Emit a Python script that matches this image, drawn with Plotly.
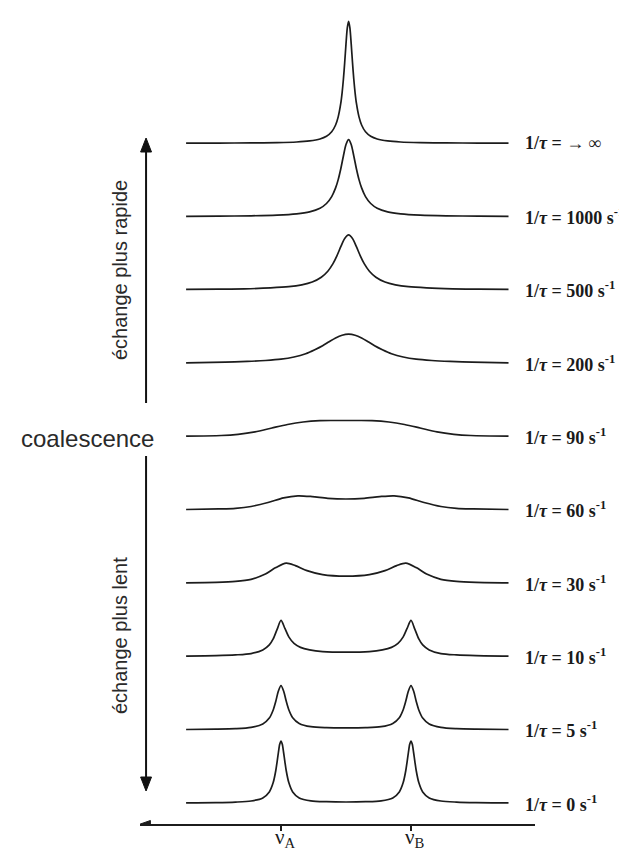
import plotly.graph_objects as go

# ---- data (frequency offset in arbitrary units, nu_A = -50, nu_B = +50; intensity) ----
rate_labels = ["→ ∞", "1000", "500", "200", "90", "60", "30", "10", "5", "0"]  # top -> bottom

x_inf = [-123, -98, -73, -53, -38, -28, -20, -15, -11, -8, -6, -4, -3, -2, -1, 0, 1, 2, 3, 4, 5, 6, 7, 8, 10, 12, 15, 19, 24, 32, 42, 57, 77, 102, 125]
y_inf = [0.1, 0.2, 0.4, 0.7, 1.3, 2.4, 4.3, 7.0, 11.5, 18.3, 26.4, 40.1, 50.5, 64.0, 80.8, 99.4, 115.4, 122, 115.4, 99.4, 80.8, 64.0, 50.5, 40.1, 26.4, 18.3, 11.5, 7.0, 4.3, 2.4, 1.3, 0.7, 0.4, 0.2, 0.1]

x_1000 = [-123, -98, -73, -53, -38, -28, -20, -15, -11, -8, -6, -4, -2, 0, 2, 4, 6, 8, 10, 12, 15, 19, 24, 32, 42, 57, 77, 102, 125]
y_1000 = [0.3, 0.5, 0.8, 1.5, 2.8, 4.8, 8.4, 13.1, 20.0, 28.7, 37.0, 47.9, 60.6, 72.1, 77, 72.1, 60.6, 47.9, 37.0, 28.7, 20.0, 13.1, 8.4, 4.8, 2.8, 1.5, 0.8, 0.5, 0.3]

x_500 = [-123, -98, -78, -58, -44, -34, -26, -19, -14, -10, -7, -4, -1, 2, 5, 8, 11, 14, 18, 23, 30, 38, 48, 62, 82, 102, 125]
y_500 = [0.5, 0.7, 1.1, 2.0, 3.2, 5.1, 7.9, 12.7, 18.7, 26.3, 34.1, 43.2, 51.5, 55, 51.5, 43.2, 34.1, 26.3, 18.7, 12.7, 7.9, 5.1, 3.2, 2.0, 1.1, 0.7, 0.5]

x_200 = [-123, -93, -76, -62, -50, -40, -31, -24, -18, -13, -8, -3, 2, 7, 12, 17, 22, 28, 35, 44, 54, 66, 80, 97, 125]
y_200 = [0.4, 1.1, 1.8, 2.7, 4.0, 6.2, 9.5, 13.5, 17.5, 21.5, 25.3, 28, 29, 28, 25.3, 21.5, 17.5, 13.5, 9.5, 6.2, 4.0, 2.7, 1.8, 1.1, 0.4]

x_90 = [-123, -96, -83, -70, -57, -45, -33, -20, -10, 0, 10, 20, 33, 45, 57, 70, 83, 96, 125]
y_90 = [0.3, 1.0, 2.2, 4.6, 8.5, 12, 14.5, 15.8, 16, 16, 16, 15.8, 14.5, 12, 8.5, 4.6, 2.2, 1.0, 0.3]

x_60 = [-123, -98, -85, -73, -60, -48, -37, -26, -14, 0, 14, 26, 37, 48, 60, 73, 85, 98, 125]
y_60 = [0.3, 0.9, 1.5, 3.3, 7.3, 12, 14, 13.2, 11.5, 10.8, 11.5, 13.2, 14, 12, 7.3, 3.3, 1.5, 0.9, 0.3]

x_30 = [-123, -100, -85, -73, -62, -54, -46, -39, -30, -18, 0, 18, 30, 39, 46, 54, 62, 73, 85, 100, 125]
y_30 = [0.3, 0.8, 1.7, 3.8, 9, 15.5, 20, 17.5, 12.5, 8.5, 7, 8.5, 12.5, 17.5, 20, 15.5, 9, 3.8, 1.7, 0.8, 0.3]

x_10 = [-123, -100, -85, -73, -64, -59, -56, -53, -50, -47, -44, -40, -35, -28, -18, 0, 18, 28, 35, 40, 44, 47, 50, 53, 56, 59, 64, 73, 85, 100, 125]
y_10 = [0.3, 0.8, 1.5, 2.8, 6.5, 11.5, 17.5, 27, 36, 28, 19.5, 13, 9, 6.5, 4.8, 4.2, 4.8, 6.5, 9, 13, 19.5, 28, 36, 27, 17.5, 11.5, 6.5, 2.8, 1.5, 0.8, 0.3]

x_5 = [-123, -100, -85, -73, -64, -59, -56, -54, -52, -50, -48, -46, -44, -41, -36, -27, -15, 0, 15, 27, 36, 41, 44, 46, 48, 50, 52, 54, 56, 59, 64, 73, 85, 100, 125]
y_5 = [0.2, 0.5, 1.0, 2.3, 5.7, 11.6, 19.7, 28.4, 38.7, 44, 38.7, 28.6, 20, 12, 6.3, 3, 2, 1.8, 2, 3, 6.3, 12, 20, 28.6, 38.7, 44, 38.7, 28.4, 19.7, 11.6, 5.7, 2.3, 1.0, 0.5, 0.2]

x_0 = [-123, -100, -85, -73, -64, -59, -56, -54, -53, -52, -51, -50, -49, -48, -47, -46, -44, -41, -36, -27, -15, 0, 15, 27, 36, 41, 44, 46, 47, 48, 49, 50, 51, 52, 53, 54, 56, 59, 64, 73, 85, 100, 125]
y_0 = [0.2, 0.4, 0.9, 2.0, 5.1, 11.1, 20.4, 32.5, 41.1, 50.5, 58.7, 62, 58.7, 50.5, 41.1, 32.5, 20.4, 11.1, 5.1, 2.2, 1.3, 1.0, 1.3, 2.2, 5.1, 11.1, 20.4, 32.5, 41.1, 50.5, 58.7, 62, 58.7, 50.5, 41.1, 32.5, 20.4, 11.1, 5.1, 2.0, 0.9, 0.4, 0.2]

nu_ticks = [-50, 50]
nu_labels = ["ν<sub>A</sub>", "ν<sub>B</sub>"]

spectra_x = [x_inf, x_1000, x_500, x_200, x_90, x_60, x_30, x_10, x_5, x_0]
spectra_y = [y_inf, y_1000, y_500, y_200, y_90, y_60, y_30, y_10, y_5, y_0]

# ---- layout constants ----
ROW_GAP = 73.3
LINE = "#1c1c1c"
X_MIN, X_MAX = -158.46, 145.38
Y_MIN, Y_MAX = -21, 795
ARROW_X = -153.8
n = len(spectra_x)

fig = go.Figure()
for i, (xs, ys) in enumerate(zip(spectra_x, spectra_y)):
    off = (n - 1 - i) * ROW_GAP
    fig.add_trace(go.Scatter(
        x=xs, y=[v + off for v in ys], mode="lines",
        line=dict(color=LINE, width=1.7, shape="spline", smoothing=0.8),
        hoverinfo="skip", showlegend=False))

annotations = []
for i, r in enumerate(rate_labels):
    off = (n - 1 - i) * ROW_GAP
    txt = "1/<i>τ</i> = " + r + ("" if "∞" in r else " s<sup>-1</sup>")
    annotations.append(dict(x=136, y=off, xref="x", yref="y", text="<b>" + txt + "</b>",
                            showarrow=False, xanchor="left", yanchor="middle",
                            font=dict(family="Liberation Serif", size=18, color="#1a1a1a")))

# frequency labels under the ticks
for xv, lab in zip(nu_ticks, nu_labels):
    annotations.append(dict(x=xv, y=(816 - 844) / 816, xref="x", yref="paper", text=lab,
                            showarrow=False, xanchor="left", yanchor="bottom", xshift=-7,
                            borderpad=0,
                            font=dict(family="Liberation Serif", size=21, color="#1a1a1a")))

annotations.append(dict(x=-0.133, y=(816 - 430) / 816, xref="paper", yref="paper",
                        text="coalescence", showarrow=False, xanchor="center", yanchor="middle",
                        font=dict(family="Liberation Sans", size=24, color="#2a2a2a")))
annotations.append(dict(x=(112 - 132) / 395, y=(816 - 262) / 816, xref="paper", yref="paper",
                        text="échange plus rapide", showarrow=False, textangle=-90,
                        xanchor="center", yanchor="middle",
                        font=dict(family="Liberation Sans", size=20, color="#2a2a2a")))
annotations.append(dict(x=(112 - 132) / 395, y=(816 - 628) / 816, xref="paper", yref="paper",
                        text="échange plus lent", showarrow=False, textangle=-90,
                        xanchor="center", yanchor="middle",
                        font=dict(family="Liberation Sans", size=20, color="#2a2a2a")))

# arrows drawn as shapes (lines + filled heads)
hx, hy = 4.2, 14  # head half-width (x units) and length (y units)
shapes = [
    dict(type="line", xref="x", yref="y", x0=ARROW_X, x1=ARROW_X, y0=400, y1=655,
         line=dict(color="#111", width=2)),
    dict(type="path", xref="x", yref="y",
         path=f"M {ARROW_X} 665 L {ARROW_X - hx} {665 - hy} L {ARROW_X + hx} {665 - hy} Z",
         fillcolor="#111", line=dict(color="#111", width=1)),
    dict(type="line", xref="x", yref="y", x0=ARROW_X, x1=ARROW_X, y0=347, y1=22,
         line=dict(color="#111", width=2)),
    dict(type="path", xref="x", yref="y",
         path=f"M {ARROW_X} 12 L {ARROW_X - hx} {12 + hy} L {ARROW_X + hx} {12 + hy} Z",
         fillcolor="#111", line=dict(color="#111", width=1)),
    dict(type="path", xref="x", yref="y",
         path=f"M {X_MIN + 0.3} {Y_MIN} L {X_MIN + 8} {Y_MIN + 3.5} L {X_MIN + 8} {Y_MIN - 3.5} Z",
         fillcolor=LINE, line=dict(color=LINE, width=1)),
]

fig.update_layout(
    width=627, height=853,
    margin=dict(l=132, r=100, t=0, b=37),
    paper_bgcolor="white", plot_bgcolor="white",
    annotations=annotations, shapes=shapes,
    xaxis=dict(range=[X_MIN, X_MAX], showgrid=False, zeroline=False,
               showline=True, linecolor=LINE, linewidth=1.6,
               ticks="outside", ticklen=5, tickwidth=1.6, tickcolor=LINE,
               tickvals=nu_ticks, showticklabels=False),
    yaxis=dict(range=[Y_MIN, Y_MAX], showgrid=False, zeroline=False, showline=False,
               showticklabels=False, ticks=""),
)

fig.write_html("out.html")
